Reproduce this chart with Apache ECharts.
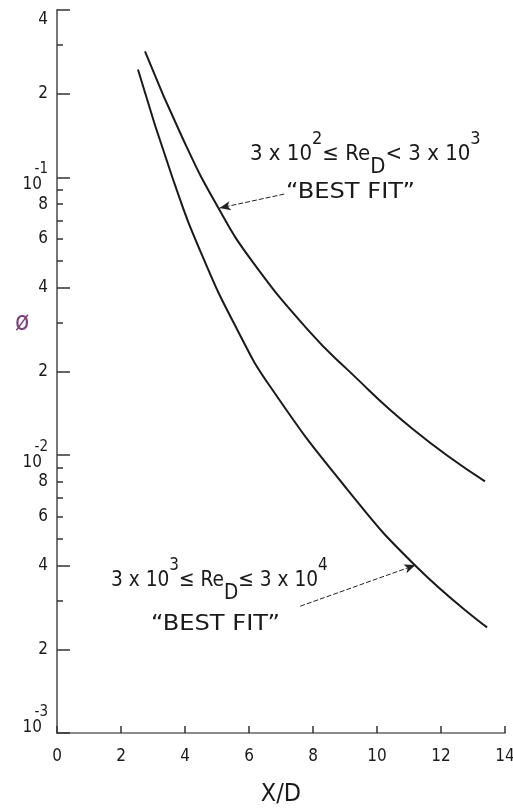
<!DOCTYPE html>
<html><head><meta charset="utf-8">
<script src="https://cdn.jsdelivr.net/npm/echarts@6/dist/echarts.min.js"></script>
<style>html,body{margin:0;padding:0;background:#fff}#c{width:513px;height:812px}</style>
</head><body><div id="c"></div>
<script>
// ---- data ----
const upperX = [2.75, 3.94, 5.03, 6.125, 7.906, 9.06, 11.125, 13.375];
const upperY = [0.284, 0.137, 0.078, 0.0494, 0.0277, 0.0204, 0.0124, 0.00805];
const lowerX = [2.53, 3.625, 4.5625, 5.625, 6.656, 9.0625, 11.25, 13.44];
const lowerY = [0.2443, 0.0984, 0.0515, 0.0284, 0.0177, 0.00755, 0.00395, 0.0024];
const xTicks = [0, 2, 4, 6, 8, 10, 12, 14];
const yTickValues = [0.4, 0.2, 0.1, 0.08, 0.06, 0.04, 0.02, 0.01, 0.008, 0.006, 0.004, 0.002, 0.001];
const yTickLabels = ['4', '2', '10^-1', '8', '6', '4', '2', '10^-2', '8', '6', '4', '2', '10^-3'];
const yMinorTicks = [0.001,0.002,0.003,0.004,0.005,0.006,0.007,0.008,0.009,
  0.01,0.02,0.03,0.04,0.05,0.06,0.07,0.08,0.09,0.1,0.2,0.3,0.4];
const yMajorTicks = [0.001, 0.002, 0.004, 0.01, 0.02, 0.04, 0.1, 0.2, 0.4];
const upperArrow = [[7.1, 0.087], [5.08, 0.0775]];
const lowerArrow = [[7.6, 0.00286], [11.2, 0.00402]];

const FONT = "'Liberation Sans Narrow','DejaVu Sans Condensed','Roboto Condensed','Liberation Sans',sans-serif";
const INK = '#1a1a1a';

function labelFor(v) {
  let best = 0, bd = 1e9;
  yTickValues.forEach((t, i) => {
    const d = Math.abs(Math.log10(t) - Math.log10(v));
    if (d < bd) { bd = d; best = i; }
  });
  const s = yTickLabels[best];
  if (s.indexOf('10^') === 0) {
    const txt = '{e|' + s.slice(3) + '}\n{b|10}';
    return best === yTickValues.length - 1 ? txt + '\n{sp| }' : txt;
  }
  return best === 0 ? '{t|' + s + '}' : '{n|' + s + '}';
}

const richLine = {
  a: { fontSize: 22, lineHeight: 48, verticalAlign: 'middle', fontFamily: FONT, fill: INK },
  s: { fontSize: 18, lineHeight: 18, verticalAlign: 'top', fontFamily: FONT, fill: INK },
  d: { fontSize: 22, lineHeight: 22, verticalAlign: 'bottom', fontFamily: FONT, fill: INK }
};

const chart = echarts.init(document.getElementById('c'));
chart.setOption({
  animation: false,
  backgroundColor: '#fff',
  grid: { left: 57, right: 8, top: 10, bottom: 79, outerBoundsMode: 'none', containLabel: false },
  xAxis: {
    type: 'value', min: 0, max: 14, interval: 2,
    axisLine: { lineStyle: { color: '#666', width: 1.5 } },
    axisTick: { inside: true, length: 7, lineStyle: { color: '#333', width: 1.5 }, customValues: xTicks },
    axisLabel: { margin: 15, fontSize: 17, color: INK, fontFamily: FONT, customValues: xTicks },
    splitLine: { show: false },
    name: 'X/D', nameLocation: 'middle', nameGap: 49,
    nameTextStyle: { fontSize: 25, color: INK, fontFamily: FONT }
  },
  yAxis: [{
    type: 'log', logBase: 10, min: 0.001, max: 0.4,
    axisLine: { lineStyle: { color: '#777', width: 2 } },
    axisTick: { inside: true, length: 6, lineStyle: { color: '#333', width: 1.5 }, customValues: yMinorTicks },
    axisLabel: {
      margin: 9, color: INK, fontFamily: FONT, customValues: yTickValues,
      formatter: labelFor,
      rich: {
        n: { fontSize: 17, fontFamily: FONT, color: INK },
        t: { fontSize: 17, fontFamily: FONT, color: INK, padding: [20, 0, 0, 0] },
        b: { fontSize: 17, fontFamily: FONT, color: INK, padding: [0, 6, 0, 0], lineHeight: 17 },
        e: { fontSize: 15, fontFamily: FONT, color: INK, lineHeight: 14 },
        sp: { fontSize: 10, lineHeight: 24 }
      }
    },
    splitLine: { show: false }
  }, {
    type: 'log', logBase: 10, min: 0.001, max: 0.4, position: 'left',
    axisLine: { show: false },
    axisTick: { inside: true, length: 13, lineStyle: { color: '#333', width: 1.5 }, customValues: yMajorTicks },
    axisLabel: { show: false },
    splitLine: { show: false }
  }],
  series: [{
    type: 'line', name: 'upper', showSymbol: false, smooth: 0.5,
    data: upperX.map((x, i) => [x, upperY[i]]),
    lineStyle: { color: INK, width: 2 },
    markLine: {
      silent: true, symbol: ['none', 'arrow'], symbolSize: [7, 11],
      label: { show: false },
      lineStyle: { color: '#222', width: 1, type: [5, 2] },
      data: [[{ coord: upperArrow[0] }, { coord: upperArrow[1] }]]
    }
  }, {
    type: 'line', name: 'lower', showSymbol: false, smooth: 0.5,
    data: lowerX.map((x, i) => [x, lowerY[i]]),
    lineStyle: { color: INK, width: 2 },
    markLine: {
      silent: true, symbol: ['none', 'arrow'], symbolSize: [7, 11],
      label: { show: false },
      lineStyle: { color: '#222', width: 1, type: [5, 2] },
      data: [[{ coord: lowerArrow[0] }, { coord: lowerArrow[1] }]]
    }
  }],
  graphic: [
    { type: 'text', left: 15, top: 310, style: { text: 'ø', fontSize: 26, fontFamily: FONT, fill: '#7b3f7b' } },
    { type: 'text', left: 250, top: 130, style: {
      text: '{a|3 x 10}{s|2}{a|≤ Re}{d|D}{a|< 3 x 10}{s|3}', rich: richLine } },
    { type: 'text', x: 286, y: 181, scaleX: 1.22, style: { text: '“BEST FIT”', fontSize: 22, fontFamily: FONT, fill: INK } },
    { type: 'text', x: 111, y: 556, scaleX: 0.94, style: {
      text: '{a|3 x 10}{s|3}{a|≤ Re}{d|D}{a|≤ 3 x 10}{s|4}', rich: richLine } },
    { type: 'text', x: 151, y: 613, scaleX: 1.22, style: { text: '“BEST FIT”', fontSize: 22, fontFamily: FONT, fill: INK } }
  ]
});
</script>
</body></html>
